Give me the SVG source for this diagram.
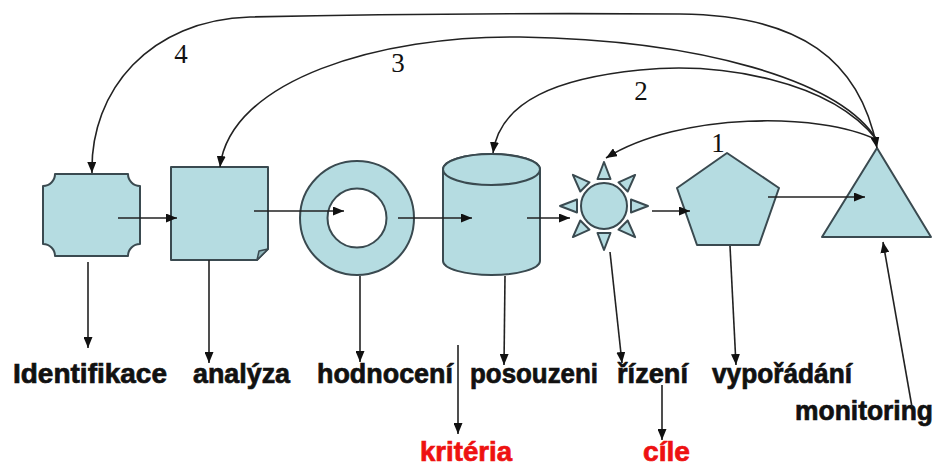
<svg xmlns="http://www.w3.org/2000/svg" width="940" height="468" viewBox="0 0 940 468">
<defs>
<style>
.shape{fill:#b5dce1;stroke:#3a4a50;stroke-width:2;stroke-linejoin:round}
.ln{fill:none;stroke:#222;stroke-width:1.6}
.lbl{font-family:"Liberation Sans",Arial,sans-serif;font-weight:bold;font-size:27px;fill:#111;stroke:#111;stroke-width:0.7}
.red{fill:#ee1111;stroke:#ee1111}
.num{font-family:"Liberation Serif","Times New Roman",serif;font-size:27px;fill:#111;text-anchor:middle}
</style>
<marker id="ah" viewBox="0 0 11 9" refX="11" refY="4.5" markerWidth="11" markerHeight="9" markerUnits="userSpaceOnUse" orient="auto-start-reverse">
<path d="M0,0 L11,4.5 L0,9 z" fill="#111"/>
</marker>
<path id="ray" d="M0,-44 L-6.5,-27 L6.5,-27 Z"/>
</defs>
<rect width="940" height="468" fill="#fff"/>

<g id="identifikace">
<path class="shape" d="M55,174 L128,174 A12,12 0 0 0 140,186 L140,244 A12,12 0 0 0 128,256 L55,256 A12,12 0 0 0 43,244 L43,186 A12,12 0 0 0 55,174 Z"/>
<text class="lbl" x="13" y="383" textLength="154" lengthAdjust="spacingAndGlyphs">Identifikace</text>
</g>

<g id="analyza">
<path class="shape" d="M171,167 H268 V249 L257,260 H171 Z"/>
<path d="M257,260 L259,251 L268,249 Z" fill="#8fb6bb" stroke="#3a4a50" stroke-width="1.5" stroke-linejoin="round"/>
<text class="lbl" x="193" y="383" textLength="97" lengthAdjust="spacingAndGlyphs">analýza</text>
</g>

<g id="hodnoceni">
<circle class="shape" cx="357" cy="218" r="57"/>
<circle cx="357" cy="218" r="29.5" fill="#fff" stroke="#3a4a50" stroke-width="2"/>
<text class="lbl" x="317" y="383" textLength="136" lengthAdjust="spacingAndGlyphs">hodnocení</text>
</g>

<g id="posouzeni">
<path class="shape" d="M443,169.5 V261 A48.5,14 0 0 0 540,261 V169.5 A48.5,15.5 0 0 0 443,169.5 Z"/>
<ellipse class="shape" cx="491.5" cy="169.5" rx="48.5" ry="15.5"/>
<text class="lbl" x="470" y="383" textLength="128" lengthAdjust="spacingAndGlyphs">posouzeni</text>
</g>

<g id="rizeni">
<circle class="shape" cx="604" cy="206" r="23"/>
<g transform="translate(604,206)">
<use href="#ray" class="shape" transform="rotate(0)"/>
<use href="#ray" class="shape" transform="rotate(45)"/>
<use href="#ray" class="shape" transform="rotate(90)"/>
<use href="#ray" class="shape" transform="rotate(135)"/>
<use href="#ray" class="shape" transform="rotate(180)"/>
<use href="#ray" class="shape" transform="rotate(225)"/>
<use href="#ray" class="shape" transform="rotate(270)"/>
<use href="#ray" class="shape" transform="rotate(315)"/>
</g>
<text class="lbl" x="617" y="383" textLength="71" lengthAdjust="spacingAndGlyphs">řízení</text>
</g>

<g id="vyporadani">
<polygon class="shape" points="727,153 779,188 759,245 697,245 677,188"/>
<text class="lbl" x="712" y="383" textLength="140" lengthAdjust="spacingAndGlyphs">vypořádání</text>
</g>

<g id="monitoring">
<polygon class="shape" points="877,148 931,237 822,237"/>
<text class="lbl" x="795" y="420" textLength="138" lengthAdjust="spacingAndGlyphs">monitoring</text>
</g>

<g id="kriteria">
<text class="lbl red" x="420" y="461" textLength="92" lengthAdjust="spacingAndGlyphs">kritéria</text>
</g>

<g id="cile">
<text class="lbl red" x="643" y="461" textLength="47" lengthAdjust="spacingAndGlyphs">cíle</text>
</g>

<g id="connectors">
<line class="ln" x1="118" y1="218" x2="177" y2="218" marker-end="url(#ah)"/>
<line class="ln" x1="254" y1="211" x2="344" y2="211" marker-end="url(#ah)"/>
<line class="ln" x1="398" y1="218" x2="472" y2="218" marker-end="url(#ah)"/>
<line class="ln" x1="527" y1="218" x2="570" y2="218" marker-end="url(#ah)"/>
<line class="ln" x1="652" y1="211" x2="690" y2="211" marker-end="url(#ah)"/>
<line class="ln" x1="768" y1="197" x2="865" y2="197" marker-end="url(#ah)"/>

<line class="ln" x1="88" y1="262" x2="88" y2="348" marker-end="url(#ah)"/>
<line class="ln" x1="209" y1="260" x2="209" y2="363" marker-end="url(#ah)"/>
<line class="ln" x1="360" y1="276" x2="360" y2="362" marker-end="url(#ah)"/>
<line class="ln" x1="505" y1="276" x2="504" y2="365" marker-end="url(#ah)"/>
<line class="ln" x1="458" y1="345" x2="458" y2="434" marker-end="url(#ah)"/>
<line class="ln" x1="610" y1="252" x2="622" y2="363" marker-end="url(#ah)"/>
<line class="ln" x1="662" y1="385" x2="662" y2="440" marker-end="url(#ah)"/>
<line class="ln" x1="730" y1="246" x2="736" y2="365" marker-end="url(#ah)"/>
<line class="ln" x1="912" y1="407" x2="883" y2="242" marker-end="url(#ah)"/>

<path class="ln" d="M877,140 C820,112 680,112 606,158" marker-end="url(#ah)"/>
<path class="ln" d="M877,140 C830,80 720,62 640,70 C560,78 500,100 493,153" marker-end="url(#ah)"/>
<path class="ln" d="M877,140 C840,80 700,40 520,37 C380,35 230,80 220,167" marker-end="url(#ah)"/>
<path class="ln" d="M877,148 C860,60 800,15 680,14 C520,13 340,15 250,17 C150,20 90,90 92,173" marker-start="url(#ah)" marker-end="url(#ah)"/>

<text class="num" x="718" y="152">1</text>
<text class="num" x="641" y="100">2</text>
<text class="num" x="398" y="72">3</text>
<text class="num" x="181" y="63">4</text>
</g>
</svg>
